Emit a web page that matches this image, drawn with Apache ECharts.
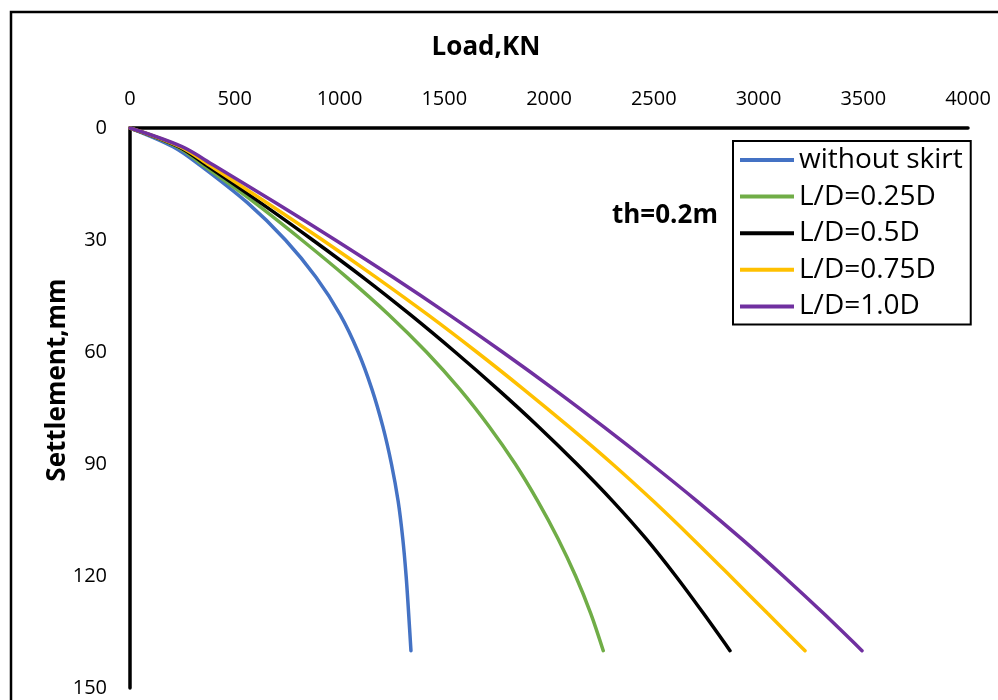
<!DOCTYPE html>
<html>
<head>
<meta charset="utf-8">
<title>Load - settlement</title>
<script src="https://cdn.jsdelivr.net/npm/echarts@6/dist/echarts.min.js"></script>
<style>
  html, body { margin: 0; padding: 0; background: #fff; }
  #chart { width: 998px; height: 700px; }
</style>
</head>
<body>
<div id="chart"></div>
<script>
// load (KN), settlement (mm) pairs, roughly every 10 mm
const withoutSkirt = [[0, 0], [205, 5], [335, 10], [560, 20], [742, 30], [888, 40], [1003, 50], [1089, 60],
  [1155, 70], [1207, 80], [1248, 90], [1280, 100], [1302, 110], [1318, 120], [1330, 130], [1341, 140]];
const ld025 = [[0, 0], [225, 5], [350, 10], [595, 20], [820, 30], [1035, 40], [1235, 50], [1415, 60],
  [1575, 70], [1715, 80], [1839, 90], [1947, 100], [2043, 110], [2127, 120], [2199, 130], [2259, 140]];
const ld05 = [[0, 0], [232, 5], [365, 10], [622, 20], [872, 30], [1112, 40], [1338, 50], [1552, 60],
  [1756, 70], [1950, 80], [2133, 90], [2305, 100], [2463, 110], [2605, 120], [2737, 130], [2864, 140]];
const ld075 = [[0, 0], [239, 5], [380, 10], [653, 20], [919, 30], [1175, 40], [1421, 50], [1655, 60],
  [1879, 70], [2095, 80], [2303, 90], [2499, 100], [2685, 110], [2865, 120], [3043, 130], [3222, 140]];
const ld10 = [[0, 0], [248, 5], [400, 10], [695, 20], [980, 30], [1256, 40], [1522, 50], [1778, 60],
  [2024, 70], [2260, 80], [2488, 90], [2708, 100], [2918, 110], [3118, 120], [3310, 130], [3494, 140]];

const seriesNames = ['without skirt', 'L/D=0.25D', 'L/D=0.5D', 'L/D=0.75D', 'L/D=1.0D'];
const seriesData = [withoutSkirt, ld025, ld05, ld075, ld10];
const colors = ['#4472C4', '#70AD47', '#000000', '#FFC000', '#7030A0'];

const font = '"Open Sans", Lato, sans-serif';

const chart = echarts.init(document.getElementById('chart'));

chart.setOption({
  animation: false,
  backgroundColor: '#fff',
  grid: { left: 130, top: 128, width: 838, height: 560, containLabel: false },
  xAxis: {
    type: 'value', position: 'top', min: 0, max: 4000, interval: 500,
    axisLine: { show: true, onZero: false, lineStyle: { color: '#000', width: 3.5 } },
    axisTick: { show: false },
    splitLine: { show: false },
    axisLabel: { color: '#000', fontSize: 20, fontFamily: font, margin: 19, formatter: v => String(v) }
  },
  yAxis: {
    type: 'value', inverse: true, min: 0, max: 150, interval: 30,
    axisLine: { show: true, onZero: false, lineStyle: { color: '#000', width: 3.5 } },
    axisTick: { show: false },
    splitLine: { show: false },
    axisLabel: { color: '#000', fontSize: 20, fontFamily: font, margin: 23 }
  },
  legend: {
    orient: 'vertical', left: 733, top: 141,
    data: seriesNames,
    icon: 'rect',
    itemWidth: 54, itemHeight: 4, itemGap: 6.6,
    padding: [4, 8, 3, 7],
    borderColor: '#000', borderWidth: 2,
    backgroundColor: '#fff',
    textStyle: { color: '#000', fontSize: 28, lineHeight: 30, fontFamily: font }
  },
  graphic: [
    { type: 'rect', shape: { x: 11, y: 12, width: 1000, height: 700 },
      style: { fill: 'none', stroke: '#000', lineWidth: 2.5 }, silent: true },
    { type: 'text', x: 486, y: 48,
      style: { text: 'Load,KN', fill: '#000', font: 'bold 26px ' + font, align: 'center', verticalAlign: 'middle' } },
    { type: 'text', x: 58, y: 380, rotation: Math.PI / 2,
      style: { text: 'Settlement,mm', fill: '#000', font: 'bold 26px ' + font, align: 'center', verticalAlign: 'middle' } },
    { type: 'text', x: 612, y: 216,
      style: { text: 'th=0.2m', fill: '#000', font: 'bold 26px ' + font, align: 'left', verticalAlign: 'middle' } }
  ],
  series: seriesData.map((d, i) => ({
    name: seriesNames[i],
    type: 'line',
    data: d,
    smooth: 0.33,
    symbol: 'none',
    color: colors[i],
    lineStyle: { color: colors[i], width: 3.5, cap: 'round' }
  }))
});
</script>
</body>
</html>
